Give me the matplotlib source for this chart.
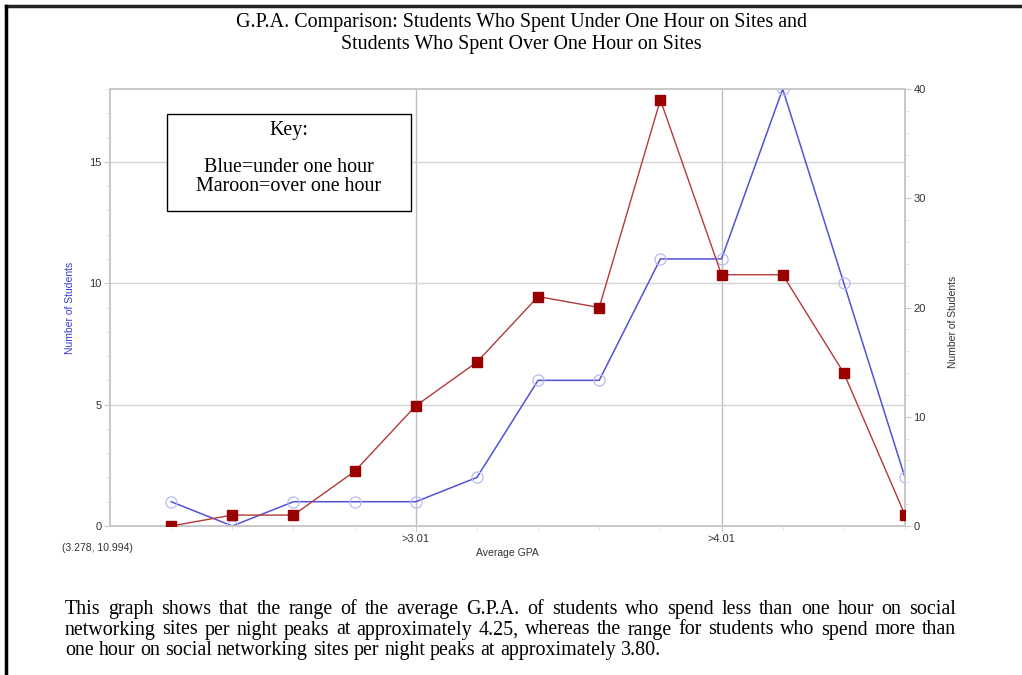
import matplotlib
matplotlib.use("Agg")
import matplotlib.pyplot as plt
from matplotlib.ticker import FixedLocator, MultipleLocator
from matplotlib.patches import Rectangle

W, H = 1022, 675

# ---- data
gpa = [2.21, 2.41, 2.61, 2.81, 3.01, 3.21, 3.41, 3.61, 3.81, 4.01, 4.21, 4.41, 4.61]
under_one_hour = [1, 0, 1, 1, 1, 2, 6, 6, 11, 11, 18, 10, 2]      # left axis
over_one_hour = [0, 1, 1, 5, 11, 15, 21, 20, 39, 23, 23, 14, 1]   # right axis
xtick_pos = [3.01, 4.01]
xtick_labels = [">3.01", ">4.01"]

title_lines = ["G.P.A. Comparison: Students Who Spent Under One Hour on Sites and",
               "Students Who Spent Over One Hour on Sites"]
key_lines = ["Blue=under one hour", "Maroon=over one hour"]
caption_lines = [
    "This graph shows that the range of the average G.P.A. of students who spend less than one hour on social",
    "networking sites per night peaks at approximately 4.25, whereas the range for students who spend more than",
    "one hour on social networking sites per night peaks at approximately 3.80.",
]

serif = "Liberation Serif"
sans = "Liberation Sans"
grid_c = "#d4d4d4"
tick_c = "#333333"
big = 14.4


def px(x, y):
    # pixel position (from top-left) -> figure fraction
    return x / W, 1 - y / H


fig = plt.figure(figsize=(W / 100, H / 100), dpi=100)
fig.patch.set_facecolor("white")

l, r, t, b = 110, 905, 89, 526
ax = fig.add_axes([l / W, 1 - b / H, (r - l) / W, (b - t) / H])
ax2 = ax.twinx()

ax.set_xlim(2.01, 4.61)
ax.set_ylim(0, 18)
ax2.set_ylim(0, 40)

for a in (ax, ax2):
    for s in a.spines.values():
        s.set_color("#c8c8c8")
        s.set_linewidth(1.2)

ax.yaxis.set_major_locator(MultipleLocator(5))
ax.yaxis.set_minor_locator(MultipleLocator(1))
ax2.yaxis.set_major_locator(MultipleLocator(10))
ax2.yaxis.set_minor_locator(MultipleLocator(2))
ax.xaxis.set_major_locator(FixedLocator(xtick_pos))
ax.set_xticklabels(xtick_labels)
ax.xaxis.set_minor_locator(FixedLocator(gpa))

ax.grid(axis="y", color=grid_c, linewidth=1.0)
ax.grid(axis="x", color="#bdbdbd", linewidth=1.0)
ax.set_axisbelow(True)

for a in (ax, ax2):
    a.tick_params(which="major", length=4, color="#c8c8c8", labelsize=8,
                  labelcolor=tick_c, pad=2)
    a.tick_params(which="minor", length=3, color="#dddddd")
    for lab in a.get_xticklabels() + a.get_yticklabels():
        lab.set_family(sans)

ax.plot(gpa, under_one_hour, color="#5252d6", linewidth=1.1, marker="o",
        markersize=8, markerfacecolor="none", markeredgecolor="#b4bcf4",
        markeredgewidth=0.9, zorder=3)
ax2.plot(gpa, over_one_hour, color="#b23a3a", linewidth=1.0, marker="s",
         markersize=7, markerfacecolor="#990000", markeredgecolor="#990000",
         zorder=3)

ax.set_ylabel("Number of Students", color="#3a3adc", fontsize=7.5, family=sans,
              labelpad=10)
ax2.set_ylabel("Number of Students", color="#333333", fontsize=7.5, family=sans,
               labelpad=14)
ax2.yaxis.set_label_coords(1.0 + 43 / (r - l), (b - 322) / (b - t))
ax.set_xlabel("Average GPA", color=tick_c, fontsize=7.5, family=sans, labelpad=3)

fig.text(*px(62, 548), "(3.278, 10.994)", fontsize=7.5, family=sans,
         color=tick_c, ha="left", va="center")

# key box
kx0, ky0, kx1, ky1 = 167, 114, 411, 211
fig.add_artist(Rectangle(px(kx0, ky1), (kx1 - kx0) / W, (ky1 - ky0) / H,
                         transform=fig.transFigure, fill=True, facecolor="white",
                         edgecolor="black", linewidth=1.0, zorder=5))
kc = (kx0 + kx1) / 2
fig.text(*px(kc, 131), "Key:", fontsize=big, family=serif, ha="center",
         va="center", zorder=6)
for i, s in enumerate(key_lines):
    fig.text(*px(kc, 167 + 20 * i), s, fontsize=big, family=serif,
             ha="center", va="center", zorder=6)

# title
for i, s in enumerate(title_lines):
    fig.text(*px(521, 22 + 23 * i), s, fontsize=big, family=serif,
             ha="center", va="center")

# outer frame (top and left only)
fig.add_artist(plt.Line2D([6 / W, 1], [1 - 6 / H] * 2, transform=fig.transFigure,
                          color="#222222", linewidth=2.5))
fig.add_artist(plt.Line2D([6 / W] * 2, [0, 1 - 6 / H], transform=fig.transFigure,
                          color="black", linewidth=2.5))

# caption, first two lines justified
renderer = fig.canvas.get_renderer()
cx0, cx1 = 65, 956
sp = fig.text(0, 0, "a a", fontsize=big, family=serif)
one = fig.text(0, 0, "aa", fontsize=big, family=serif)
space_w = sp.get_window_extent(renderer).width - one.get_window_extent(renderer).width
sp.remove()
one.remove()
for i, s in enumerate(caption_lines):
    y = 614 + 20.5 * i   # baseline
    words = s.split()
    widths = []
    for w in words:
        tt = fig.text(0, 0, w, fontsize=big, family=serif)
        widths.append(tt.get_window_extent(renderer).width)
        tt.remove()
    if i < len(caption_lines) - 1:
        gap = (cx1 - cx0 - sum(widths)) / (len(words) - 1)
    else:
        gap = space_w
    x = cx0
    for w, wd in zip(words, widths):
        fig.text(*px(x, y), w, fontsize=big, family=serif, ha="left", va="baseline")
        x += wd + gap

fig.savefig("out.png", dpi=100)
